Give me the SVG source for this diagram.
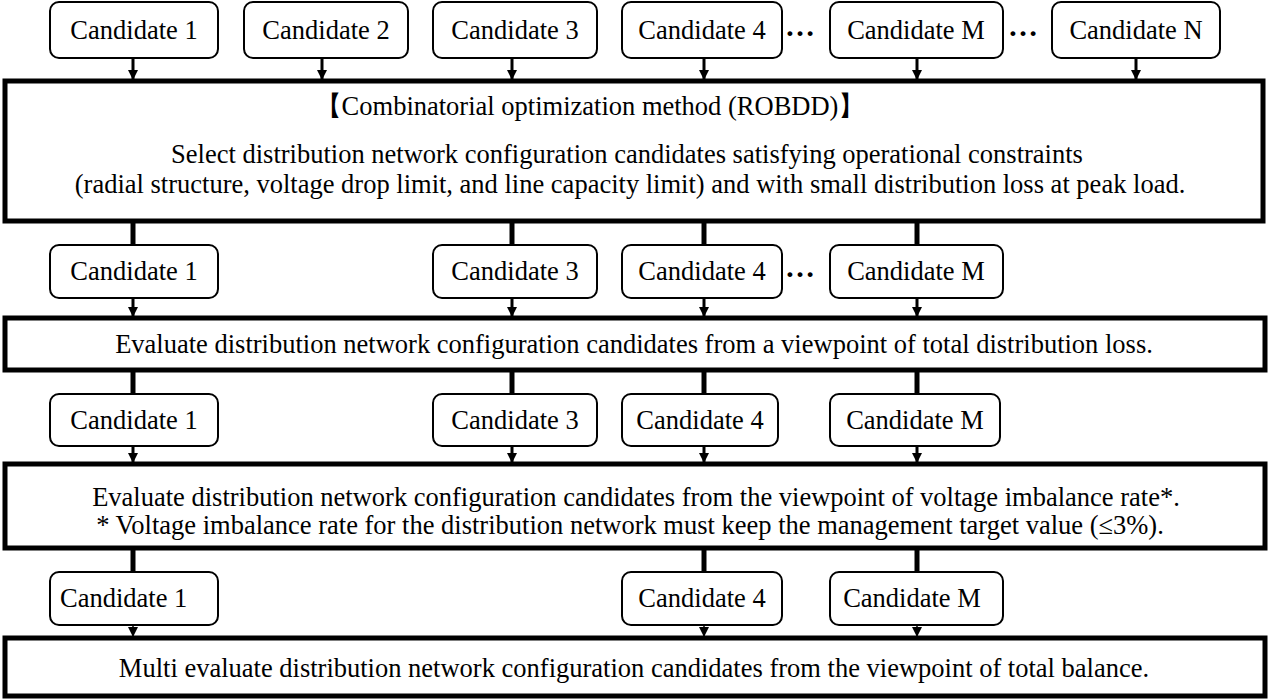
<svg xmlns="http://www.w3.org/2000/svg" width="1270" height="699" viewBox="0 0 1270 699">
<style>
text{font-family:"Liberation Serif","Times New Roman",serif;font-size:26.5px;fill:#000}
.c{text-anchor:middle}
.cand{fill:#fff;stroke:#000;stroke-width:2}
.big{fill:#fff;stroke:#000;stroke-width:5}
.thick{stroke:#000;stroke-width:5;fill:none}
.arr{stroke:#000;stroke-width:3;fill:none;marker-end:url(#ah)}
.arrt{stroke:#000;stroke-width:1.5;fill:none;marker-end:url(#ah)}
.dots{font-weight:bold;font-size:30px}
</style>
<defs>
<marker id="ah" markerWidth="10" markerHeight="10" refX="9" refY="5" orient="auto" markerUnits="userSpaceOnUse" viewBox="0 0 10 10">
<path d="M0,0 L10,5 L0,10 z" fill="#000"/>
</marker>
</defs>
<rect width="1270" height="699" fill="#fff"/>
<g id="connectors">
<line class="arr" x1="133" y1="58" x2="133" y2="79"/>
<line class="arr" x1="322" y1="58" x2="322" y2="79"/>
<line class="arr" x1="512" y1="58" x2="512" y2="79"/>
<line class="arr" x1="704" y1="58" x2="704" y2="79"/>
<line class="arr" x1="917" y1="58" x2="917" y2="79"/>
<line class="arr" x1="1136" y1="58" x2="1136" y2="79"/>
<line class="thick" x1="133" y1="221" x2="133" y2="245"/>
<line class="thick" x1="512" y1="221" x2="512" y2="245"/>
<line class="thick" x1="704" y1="221" x2="704" y2="245"/>
<line class="thick" x1="917" y1="221" x2="917" y2="245"/>
<line class="arr" x1="133" y1="298" x2="133" y2="316"/>
<line class="arr" x1="512" y1="298" x2="512" y2="316"/>
<line class="arr" x1="704" y1="298" x2="704" y2="316"/>
<line class="arr" x1="917" y1="298" x2="917" y2="316"/>
<line class="thick" x1="133" y1="370" x2="133" y2="394"/>
<line class="thick" x1="512" y1="370" x2="512" y2="394"/>
<line class="thick" x1="704" y1="370" x2="704" y2="394"/>
<line class="thick" x1="917" y1="370" x2="917" y2="394"/>
<line class="arr" x1="133" y1="446" x2="133" y2="462"/>
<line class="arr" x1="512" y1="446" x2="512" y2="462"/>
<line class="arr" x1="704" y1="446" x2="704" y2="462"/>
<line class="arr" x1="917" y1="446" x2="917" y2="462"/>
<line class="thick" x1="133" y1="548" x2="133" y2="572"/>
<line class="thick" x1="704" y1="548" x2="704" y2="572"/>
<line class="thick" x1="917" y1="548" x2="917" y2="572"/>
<line class="arrt" x1="133" y1="625" x2="133" y2="636"/>
<line class="arrt" x1="704" y1="625" x2="704" y2="636"/>
<line class="arrt" x1="917" y1="625" x2="917" y2="636"/>
</g>
<g id="r1c1"><rect class="cand" x="50" y="2" width="168" height="56" rx="9"/><text class="c" x="134" y="39">Candidate 1</text></g>
<g id="r1c2"><rect class="cand" x="244" y="2" width="164" height="56" rx="9"/><text class="c" x="326" y="39">Candidate 2</text></g>
<g id="r1c3"><rect class="cand" x="433" y="2" width="164" height="56" rx="9"/><text class="c" x="515" y="39">Candidate 3</text></g>
<g id="r1c4"><rect class="cand" x="622" y="2" width="160" height="56" rx="9"/><text class="c" x="702" y="39">Candidate 4</text></g>
<g id="r1d1"><text class="dots" x="785" y="36">…</text></g>
<g id="r1cm"><rect class="cand" x="830" y="2" width="173" height="56" rx="9"/><text class="c" x="916" y="39">Candidate M</text></g>
<g id="r1d2"><text class="dots" x="1008" y="36">…</text></g>
<g id="r1cn"><rect class="cand" x="1052" y="2" width="168" height="56" rx="9"/><text class="c" x="1136" y="39">Candidate N</text></g>
<g id="step1">
<rect class="big" x="5" y="81" width="1258" height="140"/>
<text class="c" x="590" y="115">【Combinatorial optimization method (ROBDD)】</text>
<text class="c" x="627" y="163">Select distribution network configuration candidates satisfying operational constraints</text>
<text class="c" x="630" y="193">(radial structure, voltage drop limit, and line capacity limit) and with small distribution loss at peak load.</text>
</g>
<g id="r2c1"><rect class="cand" x="50" y="245" width="168" height="53" rx="9"/><text class="c" x="134" y="280">Candidate 1</text></g>
<g id="r2c3"><rect class="cand" x="433" y="245" width="164" height="53" rx="9"/><text class="c" x="515" y="280">Candidate 3</text></g>
<g id="r2c4"><rect class="cand" x="622" y="245" width="160" height="53" rx="9"/><text class="c" x="702" y="280">Candidate 4</text></g>
<g id="r2d1"><text class="dots" x="785" y="277">…</text></g>
<g id="r2cm"><rect class="cand" x="830" y="245" width="173" height="53" rx="9"/><text class="c" x="916" y="280">Candidate M</text></g>
<g id="step2">
<rect class="big" x="5" y="318" width="1260" height="52"/>
<text class="c" x="634" y="353">Evaluate distribution network configuration candidates from a viewpoint of total distribution loss.</text>
</g>
<g id="r3c1"><rect class="cand" x="50" y="394" width="168" height="52" rx="9"/><text class="c" x="134" y="429">Candidate 1</text></g>
<g id="r3c3"><rect class="cand" x="433" y="394" width="164" height="52" rx="9"/><text class="c" x="515" y="429">Candidate 3</text></g>
<g id="r3c4"><rect class="cand" x="622" y="394" width="156" height="52" rx="9"/><text class="c" x="700" y="429">Candidate 4</text></g>
<g id="r3cm"><rect class="cand" x="830" y="394" width="170" height="52" rx="9"/><text class="c" x="915" y="429">Candidate M</text></g>
<g id="step3">
<rect class="big" x="5" y="464" width="1260" height="84"/>
<text class="c" x="636" y="506">Evaluate distribution network configuration candidates from the viewpoint of voltage imbalance rate*.</text>
<text class="c" x="630" y="534">* Voltage imbalance rate for the distribution network must keep the management target value (≤3%).</text>
</g>
<g id="r4c1"><rect class="cand" x="50" y="572" width="168" height="53" rx="9"/><text x="60" y="607">Candidate 1</text></g>
<g id="r4c4"><rect class="cand" x="622" y="572" width="160" height="53" rx="9"/><text class="c" x="702" y="607">Candidate 4</text></g>
<g id="r4cm"><rect class="cand" x="830" y="572" width="173" height="53" rx="9"/><text class="c" x="912" y="607">Candidate M</text></g>
<g id="step4">
<rect class="big" x="5" y="638" width="1260" height="58"/>
<text class="c" x="634" y="677">Multi evaluate distribution network configuration candidates from the viewpoint of total balance.</text>
</g>
</svg>
